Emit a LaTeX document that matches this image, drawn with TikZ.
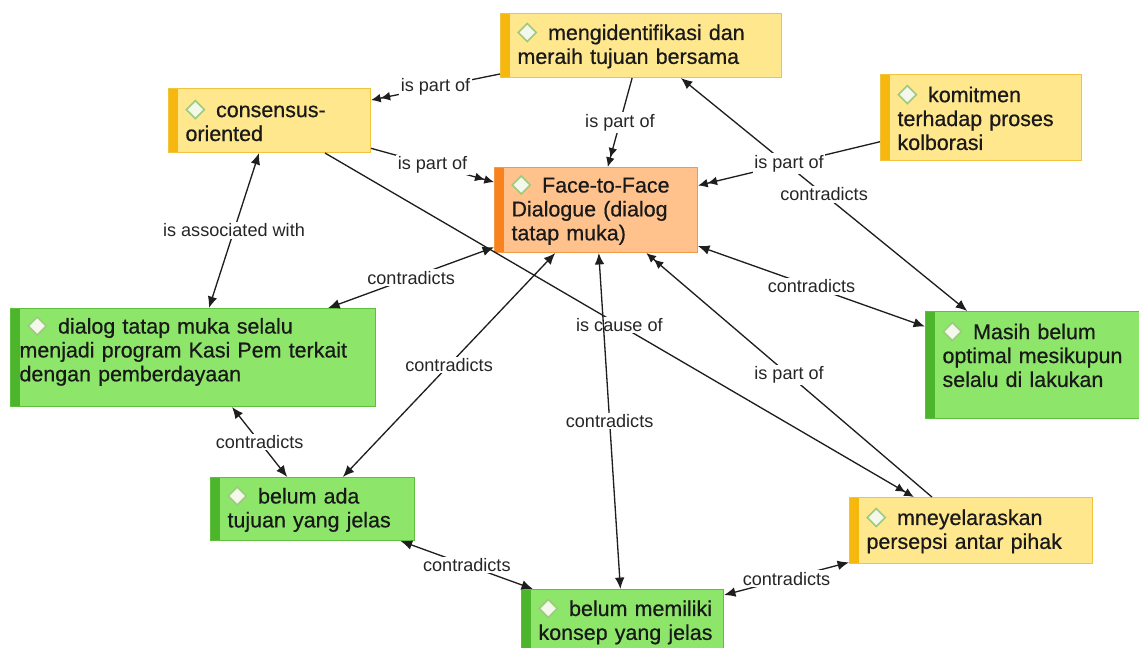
\documentclass[tikz,border=0pt]{standalone}
\usepackage{fontspec}
\setmainfont{Liberation Sans}
\newfontfamily\codefont[FakeBold=0.6]{Liberation Sans}
\usetikzlibrary{arrows.meta}

\definecolor{yfill}{HTML}{FFE78E}
\definecolor{yline}{HTML}{F2C43E}
\definecolor{ystrip}{HTML}{F6B80F}
\definecolor{ofill}{HTML}{FFC28C}
\definecolor{oline}{HTML}{F29A48}
\definecolor{ostrip}{HTML}{F7821E}
\definecolor{gfill}{HTML}{8DE66A}
\definecolor{gline}{HTML}{5DBF3C}
\definecolor{gstrip}{HTML}{4DB52B}
\definecolor{gemfill}{HTML}{F3F8EA}
\definecolor{gemline}{HTML}{9BCB7C}
\definecolor{wire}{HTML}{1E1E1E}

% small diamond in front of every code name
\newcommand{\gem}{\tikz[baseline=-0.15cm]\filldraw[fill=gemfill,draw=gemline,line width=0.9pt] (0,0.18cm)--(0.18cm,0)--(0,-0.18cm)--(-0.18cm,0)--cycle;\hspace{0.22cm}}

\begin{document}
\begin{tikzpicture}[x=0.02cm, y=-0.02cm,
  concept/.style={anchor=north west, rectangle, line width=0.6pt, inner xsep=0pt, inner ysep=0.08cm,
    align=left, text=black!90, font=\codefont\fontsize{12.2}{13.6}\selectfont, indent=0.34cm},
  indent/.style={execute at begin node={\leftskip=#1\relax}},
  strip/.style={path picture={\fill[#1] (path picture bounding box.south west) rectangle ([xshift=0.18cm]path picture bounding box.north west);}},
  ybox/.style={concept, fill=yfill, draw=yline, strip=ystrip},
  obox/.style={concept, fill=ofill, draw=oline, strip=ostrip},
  gbox/.style={concept, fill=gfill, draw=gline, strip=gstrip},
  link/.style={draw=wire, line width=0.75pt},
  partof/.style={link, -{Latex[length=5.5pt,width=5pt]Latex[length=5.5pt,width=5pt]}},
  mutual/.style={link, {Latex[length=6.5pt,width=5.5pt]}-{Latex[length=6.5pt,width=5.5pt]}},
  lab/.style={fill=white, inner sep=1pt, text=black!85, font=\fontsize{10.3}{12}\selectfont}]

\useasboundingbox (0,0) rectangle (1139,648);
\clip (0,0) rectangle (1139,648);
\fill[white] (0,0) rectangle (1139,648);

% codes
\node[ybox, text width=5.62cm, minimum height=1.28cm] (goal) at (500,13) {\gem mengidentifikasi dan\\meraih tujuan bersama};
\node[ybox, text width=4.04cm, minimum height=1.28cm] (consensus) at (168,88) {\gem consensus-\\oriented};
\node[ybox, text width=4.02cm, minimum height=1.72cm] (commit) at (880,74) {\gem komitmen\\terhadap proses\\kolborasi};
\node[obox, text width=4.06cm, minimum height=1.70cm] (dialogue) at (494,167) {\gem Face-to-Face\\Dialogue (dialog\\tatap muka)};
\node[gbox, indent=0.18cm, text width=7.30cm, minimum height=1.96cm] (routine) at (10,308) {\hspace{0.16cm}\gem dialog tatap muka selalu\\menjadi program Kasi Pem terkait\\dengan pemberdayaan\par\vspace{0.26cm}};
\node[gbox, text width=4.32cm, minimum height=2.14cm] (notoptimal) at (925,311) {\gem Masih belum\\optimal mesikupun\\selalu di lakukan\par\vspace{0.42cm}};
\node[gbox, text width=4.08cm, minimum height=1.26cm] (nogoal) at (210,477) {\gem belum ada\\tujuan yang jelas};
\node[ybox, text width=4.86cm, minimum height=1.32cm] (harmony) at (849,497) {\gem mneyelaraskan\\persepsi antar pihak};
\node[gbox, text width=4.04cm, minimum height=1.28cm] (noconcept) at (521,589) {\gem belum memiliki\\konsep yang jelas};

% relations
\draw[partof] (goal) -- node[lab] (l1) {is part of} (consensus);
\draw[partof] (goal) -- node[lab] (l2) {is part of} (dialogue);
\draw[partof] (consensus) -- node[lab] (l3) {is part of} (dialogue);
\draw[mutual] (goal) -- node[lab] (l4) {contradicts} (notoptimal);
\draw[partof] (commit) -- node[lab] (l5) {is part of} (dialogue);
\draw[mutual] (consensus) -- node[lab] (l6) {is associated with} (routine);
\draw[mutual] (dialogue) -- node[lab] (l7) {contradicts} (routine);
\draw[mutual] (dialogue) -- node[lab] (l8) {contradicts} (notoptimal);
\draw[mutual] (dialogue) -- node[lab] (l9) {contradicts} (nogoal);
\draw[partof] (consensus) -- node[lab] (l10) {is cause of} (harmony);
\draw[mutual] (dialogue) -- node[lab] (l11) {contradicts} (noconcept);
\draw[partof] (harmony) -- node[lab] (l12) {is part of} (dialogue);
\draw[mutual] (routine) -- node[lab] (l13) {contradicts} (nogoal);
\draw[mutual] (nogoal) -- node[lab] (l14) {contradicts} (noconcept);
\draw[mutual] (noconcept) -- node[lab] (l15) {contradicts} (harmony);
\end{tikzpicture}
\end{document}
